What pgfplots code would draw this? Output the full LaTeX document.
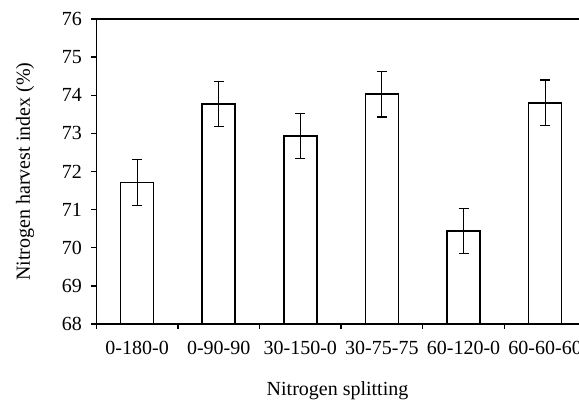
\documentclass[border=0pt]{standalone}
\usepackage{pgfplots}
\pgfplotsset{compat=1.18}
\usepackage{fontspec}
\setmainfont{Liberation Serif}
\begin{document}
\begin{tikzpicture}
\begin{axis}[
  at={(96.3pt,79pt)}, anchor=south west,
  scale only axis, width=489.6pt, height=305pt,
  xmin=-0.5, xmax=5.5, ymin=68, ymax=76,
  ybar, bar width=33pt,
  ytick={68,69,...,76},
  xtick={-0.5,0.5,...,5.5},
  xticklabels={},
  extra x ticks={0,1,2,3,4,5},
  extra x tick labels={0-180-0,0-90-90,30-150-0,30-75-75,60-120-0,60-60-60},
  extra x tick style={major tick length=0pt, tick label style={yshift=-14pt}},
  tick align=outside, tick pos=left,
  major tick length=5pt,
  axis line style={line width=1.6pt},
  every tick/.style={line width=1.3pt, black},
  /pgf/number format/assume math mode=true,
  tick label style={font=\fontsize{20}{24}\selectfont},
  yticklabel style={xshift=-6pt},
  label style={font=\fontsize{20}{24}\selectfont},
  xlabel={Nitrogen splitting},
  ylabel={Nitrogen harvest index (\%)},
  xlabel style={at={(axis description cs:0.4927,-0.22)}, anchor=center},
  ylabel style={at={(axis description cs:-0.1456,0.5)}, anchor=center, rotate=0},
]
\addplot[fill=white, draw=black, line width=1.6pt,
  error bars/.cd, y dir=both, y explicit,
  error bar style={line width=1.1pt, black},
  error mark options={rotate=90, mark size=5pt, line width=1.1pt, black}]
  coordinates {
    (0,71.71) +- (0,0.60)
    (1,73.77) +- (0,0.60)
    (2,72.93) +- (0,0.59)
    (3,74.03) +- (0,0.60)
    (4,70.44) +- (0,0.60)
    (5,73.80) +- (0,0.60)
  };
\end{axis}
\pgfresetboundingbox
\path[use as bounding box] (0,0) rectangle (579pt,403pt);
\end{tikzpicture}
\end{document}
